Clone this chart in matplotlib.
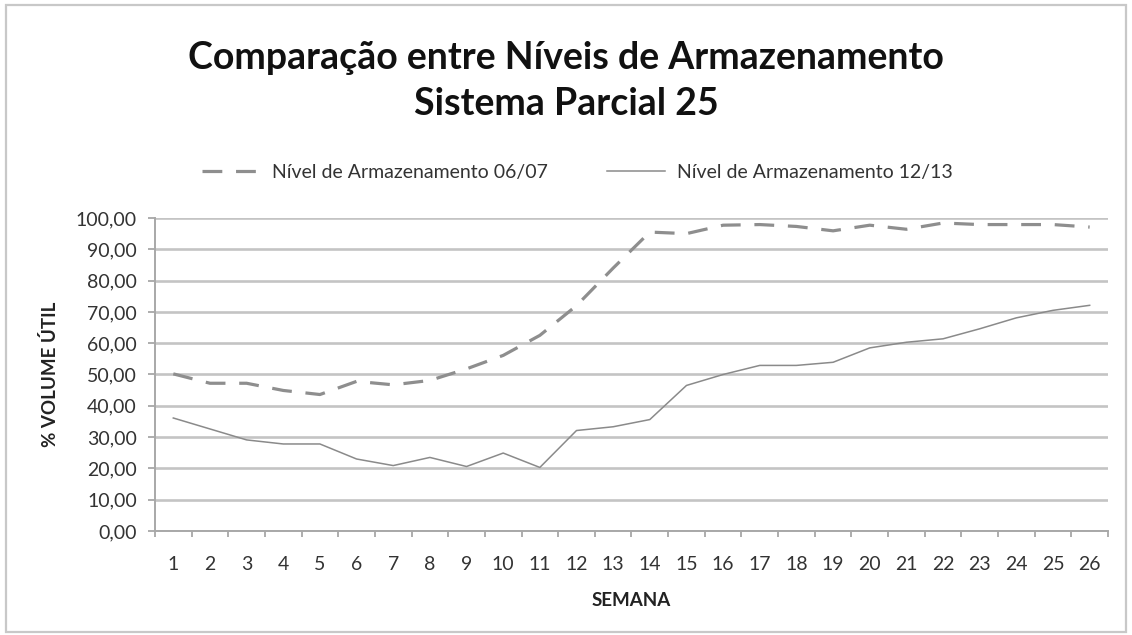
import matplotlib.pyplot as plt
from matplotlib.patches import Rectangle
from matplotlib.ticker import FixedLocator, FuncFormatter

plt.rcParams['font.family'] = ['Lato', 'DejaVu Sans']

# semanas e níveis de armazenamento (% volume útil)
semanas = list(range(1, 27))
nivel_0607 = [50.2, 47.2, 47.2, 44.9, 43.6, 47.8, 46.7, 48.1, 51.8, 56.1,
              62.5, 72.0, 84.0, 95.5, 95.0, 97.7, 97.9, 97.3, 95.9, 97.7,
              96.4, 98.4, 97.9, 97.9, 97.9, 97.1]
nivel_1213 = [36.1, 32.6, 29.1, 27.8, 27.8, 23.0, 20.9, 23.5, 20.6, 24.9,
              20.3, 32.1, 33.3, 35.6, 46.5, 50.0, 52.9, 52.9, 53.9, 58.5,
              60.3, 61.4, 64.6, 68.1, 70.5, 72.1]

fig = plt.figure(figsize=(11.32, 6.35), dpi=100)
ax = fig.add_axes([0.1369, 0.1638, 0.8419, 0.4929])

# moldura da área do gráfico
fig.patches.append(Rectangle((0.005, 0.005), 0.99, 0.987, transform=fig.transFigure,
                             fill=False, edgecolor='#c8c8c8', linewidth=1.6))

ax.plot(semanas, nivel_0607, color='#8e8e8e', linewidth=2.3, dashes=(6.2, 4.3),
        label='Nível de Armazenamento 06/07', zorder=3)
ax.plot(semanas, nivel_1213, color='#8a8a8a', linewidth=1.1,
        label='Nível de Armazenamento 12/13', zorder=3)

ax.set_xlim(0.5, 26.5)
ax.set_ylim(0, 100)
ax.set_yticks(range(0, 101, 10))
ax.yaxis.set_major_formatter(FuncFormatter(lambda v, p: f"{v:.2f}".replace('.', ',')))
ax.set_xticks(semanas)
ax.xaxis.set_minor_locator(FixedLocator([i + 0.5 for i in range(0, 27)]))
ax.tick_params(axis='x', which='major', length=0, pad=18, labelsize=14, labelcolor='#333333')
ax.tick_params(axis='x', which='minor', length=4, width=1.2, color='#a0a0a0', direction='out')
ax.tick_params(axis='y', length=5, width=1.2, color='#a0a0a0', pad=8,
               labelsize=14, labelcolor='#333333')

ax.grid(axis='y', color='#c4c4c4', linewidth=1.9, zorder=0)
ax.set_axisbelow(True)
for side in ('top', 'right'):
    ax.spines[side].set_visible(False)
for side in ('left', 'bottom'):
    ax.spines[side].set_color('#a8a8a8')
    ax.spines[side].set_linewidth(1.4)

ax.set_xlabel('SEMANA', fontsize=13.5, fontweight='bold', labelpad=14, color='#222222')
ax.set_ylabel('% VOLUME ÚTIL', fontsize=13.5, fontweight='bold', labelpad=12, color='#222222')

fig.text(0.5, 0.872, 'Comparação entre Níveis de Armazenamento\nSistema Parcial 25',
         ha='center', va='center', fontsize=27, fontweight='bold',
         linespacing=1.42, color='#111111')

fig.legend(loc='center', bbox_to_anchor=(0.51, 0.728), ncol=2, frameon=False,
           fontsize=14, handlelength=3.0, columnspacing=3.0, handletextpad=0.6,
           labelcolor='#333333')

plt.savefig('out.png', dpi=100)
plt.close()
